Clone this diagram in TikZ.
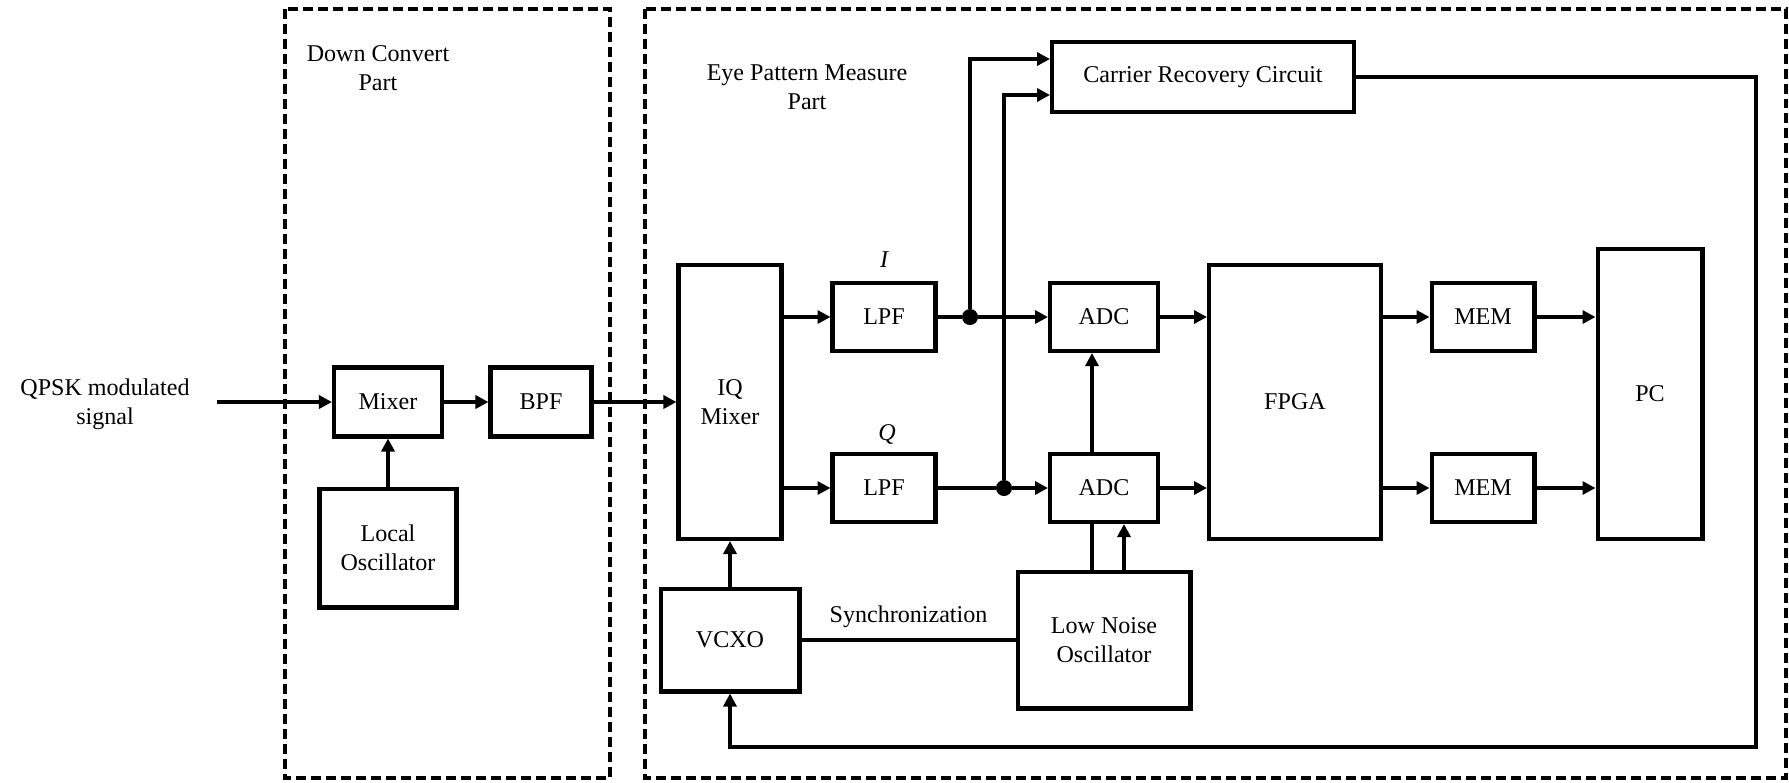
\documentclass[tikz,border=0pt]{standalone}
\usepackage{fontspec}
\setmainfont{Liberation Serif}
\usetikzlibrary{arrows.meta}

\begin{document}
\begin{tikzpicture}[x=0.02cm, y=-0.02cm, font=\fontsize{13.7}{16.5}\selectfont,
    blk/.style={draw, line width=2.3pt, inner sep=0pt, align=center, fill=white},
    arr/.style={line width=2.2pt, -{Triangle[length=0.26cm, width=0.26cm]}},
    wire/.style={line width=1.9pt},
    dot/.style={circle, fill, inner sep=0pt, minimum size=0.32cm},
    part/.style={line width=1.9pt, dash pattern=on 0.2cm off 0.1cm}]
  \useasboundingbox (0,0) rectangle (1789,782);
  % the two parts
  \draw[part] (285,9) rectangle (610,778);
  \draw[part] (645,9) rectangle (1786,778);
  \node[align=center] (dcp) at (378,68) {Down Convert\\Part};
  \node[align=center] (epm) at (807,87) {Eye Pattern Measure\\Part};
  % down convert part
  \node[align=center] (qpsk) at (105,404) {QPSK modulated\\signal};
  \coordinate (in) at (217,402);
  \node[blk, minimum width=2.16cm, minimum height=1.38cm] (mix) at (388,402) {Mixer};
  \node[blk, minimum width=2.02cm, minimum height=1.38cm] (bpf) at (541,402) {BPF};
  \node[blk, minimum width=2.74cm, minimum height=2.38cm] (lo) at (388,548) {Local\\Oscillator};
  % eye pattern measure part
  \node[blk, minimum width=2.06cm, minimum height=5.48cm] (iq) at (730,402) {IQ\\Mixer};
  \node[blk, minimum width=2.06cm, minimum height=1.36cm] (lpfI) at (884,317) {LPF};
  \node[blk, minimum width=2.06cm, minimum height=1.36cm] (lpfQ) at (884,488) {LPF};
  \node (lblI) at (884,260) {\itshape I};
  \node (lblQ) at (887,434) {\itshape Q};
  \node[dot] (dI) at (970,317) {};
  \node[dot] (dQ) at (1004,488) {};
  \node[blk, minimum width=6.04cm, minimum height=1.40cm] (cr) at (1203,77) {Carrier Recovery Circuit};
  \node[blk, minimum width=2.16cm, minimum height=1.36cm] (adcI) at (1104,317) {ADC};
  \node[blk, minimum width=2.16cm, minimum height=1.36cm] (adcQ) at (1104,488) {ADC};
  \node[blk, minimum width=3.46cm, minimum height=2.74cm] (lno) at (1104,640) {Low Noise\\Oscillator};
  \node[blk, minimum width=2.78cm, minimum height=2.06cm] (vcxo) at (730,640) {VCXO};
  \node[blk, minimum width=3.44cm, minimum height=5.48cm] (fpga) at (1295,402) {FPGA};
  \node[blk, minimum width=2.06cm, minimum height=1.36cm] (memI) at (1483,317) {MEM};
  \node[blk, minimum width=2.06cm, minimum height=1.36cm] (memQ) at (1483,488) {MEM};
  \node[blk, minimum width=2.10cm, minimum height=5.80cm] (pc) at (1650,394) {PC};
  \coordinate (fb) at (1756,747);
  % connections
  \draw[arr] (in) -- (mix);
  \draw[arr] (mix) -- (bpf);
  \draw[arr] (lo) -- (mix);
  \draw[arr] (bpf) -- (iq);
  \draw[arr] (iq.east |- lpfI) -- (lpfI);
  \draw[arr] (iq.east |- lpfQ) -- (lpfQ);
  \draw[wire] (lpfI) -- (dI);
  \draw[wire] (lpfQ) -- (dQ);
  \draw[arr] (dI) -- (adcI);
  \draw[arr] (dQ) -- (adcQ);
  \draw[arr] (dI) |- ([yshift=0.36cm]cr.west);
  \draw[arr] (dQ) |- ([yshift=-0.36cm]cr.west);
  \draw[arr] ([xshift=-0.24cm]adcQ.north) -- ([xshift=-0.24cm]adcI.south);
  \draw[wire] ([xshift=-0.24cm]lno.north) -- ([xshift=-0.24cm]adcQ.south);
  \draw[arr] ([xshift=0.4cm]lno.north) -- ([xshift=0.4cm]adcQ.south);
  \draw[arr] (vcxo) -- (iq);
  \draw[wire] (vcxo) -- node[above=0.1cm] {Synchronization} (lno);
  \draw[arr] (adcI) -- (fpga.west |- adcI);
  \draw[arr] (adcQ) -- (fpga.west |- adcQ);
  \draw[arr] (fpga.east |- memI) -- (memI);
  \draw[arr] (fpga.east |- memQ) -- (memQ);
  \draw[arr] (memI) -- (pc.west |- memI);
  \draw[arr] (memQ) -- (pc.west |- memQ);
  \draw[wire, -{Triangle[length=0.26cm, width=0.26cm]}] (cr) -| (fb) -| (vcxo);
\end{tikzpicture}
\end{document}
